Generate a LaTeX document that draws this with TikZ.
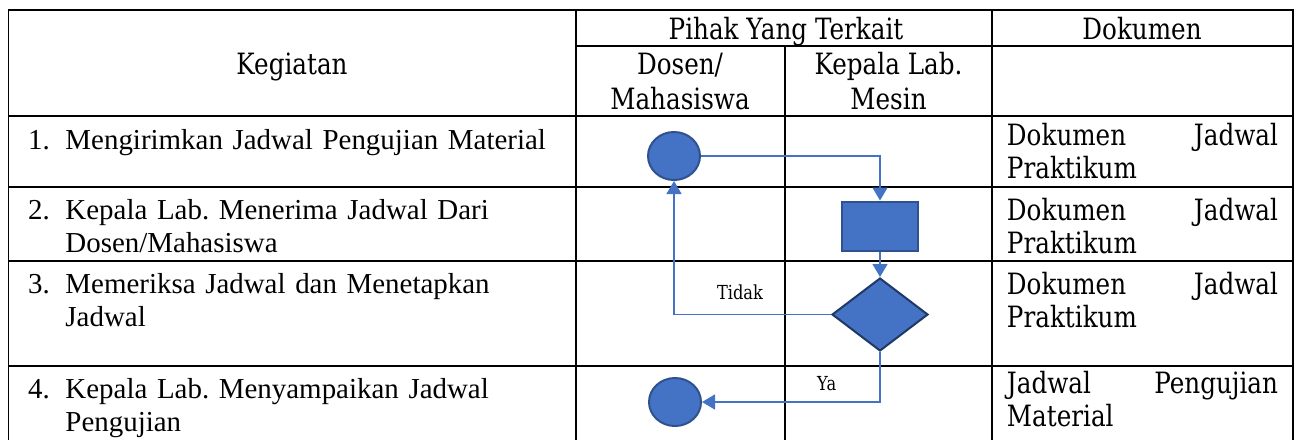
\documentclass[tikz,border=0pt]{standalone}
\usepackage{fontspec}
\setmainfont{Liberation Serif}
\newfontfamily\hdrfont[FakeStretch=0.84]{DejaVu Serif}
\usetikzlibrary{shapes.geometric,arrows.meta}
\definecolor{fillblue}{HTML}{4472C4}
\definecolor{edgeblue}{HTML}{2F528F}
\definecolor{darkedge}{HTML}{1F3864}
\definecolor{lineblue}{HTML}{4472C4}
\hyphenpenalty=10000
\exhyphenpenalty=10000
\tolerance=10000
\frenchspacing
\tikzset{
  gridline/.style={line width=1.3pt, black},
  hdr/.style={font=\hdrfont\fontsize{22}{25.5}\selectfont, inner sep=0pt, anchor=base},
  small/.style={font=\hdrfont\fontsize{14.5}{17}\selectfont, inner sep=0pt},
  body/.style={font=\fontsize{21.7}{25}\selectfont, inner sep=0pt},
  numtxt/.style={body, anchor=base west},
  actxt/.style={body, anchor=base west, text width=375pt, align=left},
  doctxt/.style={font=\hdrfont\fontsize{22}{25}\selectfont, inner sep=0pt, anchor=base west, text width=203.25pt, align=justify},
  oval/.style={ellipse, fill=fillblue, draw=edgeblue, line width=1.5pt, minimum width=39pt, minimum height=36pt, inner sep=0pt},
  procbox/.style={rectangle, fill=fillblue, draw=edgeblue, line width=1.5pt, minimum width=57pt, minimum height=36.75pt, inner sep=0pt},
  decision/.style={diamond, fill=fillblue, draw=darkedge, line width=1.5pt, minimum width=72pt, minimum height=54.75pt, inner sep=0pt},
  conn/.style={draw=lineblue, line width=1pt, -{Triangle[length=9.75pt, width=11.25pt]}},
}
\begin{document}
\begin{tikzpicture}[x=0.75pt, y=-0.75pt]
\useasboundingbox (0,0) rectangle (1294,440);
% table grid
\draw[gridline] (8.5,440) -- (8.5,10) -- (1293,10) -- (1293,440);
\draw[gridline] (576,46) -- (1293,46);
\draw[gridline] (8.5,116) -- (1293,116);
\draw[gridline] (8.5,187) -- (1293,187);
\draw[gridline] (8.5,261) -- (1293,261);
\draw[gridline] (8.5,366) -- (1293,366);
\draw[gridline] (576,10) -- (576,440);
\draw[gridline] (785,46) -- (785,440);
\draw[gridline] (992,10) -- (992,440);
% header
\node[hdr] (hkeg) at (292,74) {Kegiatan};
\node[hdr] (hpihak) at (786,39) {Pihak Yang Terkait};
\node[hdr] (hdok) at (1142,39) {Dokumen};
\node[hdr] (hdos1) at (680,74) {Dosen/};
\node[hdr] (hdos2) at (680,109) {Mahasiswa};
\node[hdr] (hkep1) at (888.5,74) {Kepala Lab.};
\node[hdr] (hkep2) at (888.5,109) {Mesin};
% activities
\node[numtxt] (n1) at (27.8,149.5) {1.};
\node[actxt] (a1) at (65.2,149.5) {Mengirimkan Jadwal Pengujian Material};
\node[numtxt] (n2) at (27.8,219.3) {2.};
\node[actxt] (a2) at (65.2,219.3) {Kepala Lab. Menerima Jadwal Dari\\Dosen/Mahasiswa};
\node[numtxt] (n3) at (27.8,293.3) {3.};
\node[actxt] (a3) at (65.2,293.3) {Memeriksa Jadwal dan Menetapkan\\Jadwal};
\node[numtxt] (n4) at (27.8,398.3) {4.};
\node[actxt] (a4) at (65.2,398.3) {Kepala Lab. Menyampaikan Jadwal\\Pengujian};
% documents
\node[doctxt] (d1) at (1006.7,145) {Dokumen Jadwal Praktikum};
\node[doctxt] (d2) at (1006.7,220) {Dokumen Jadwal Praktikum};
\node[doctxt] (d3) at (1006.7,294.3) {Dokumen Jadwal Praktikum};
\node[doctxt] (d4) at (1006.7,393.3) {Jadwal Pengujian Material};
% flow shapes
\node[oval] (c1) at (674,156) {};
\node[procbox] (r) at (880,226) {};
\node[decision] (dd) at (880,314.5) {};
\node[oval] (c2) at (675,402) {};
% connectors
\draw[conn] (c1.east) -| (r.north);
\draw[conn] (r.south) -- (dd.north);
\draw[conn] (dd.west) -| (c1.south);
\draw[conn] (dd.south) |- (c2.east);
\node[small] (tidak) at (740,292.7) {Tidak};
\node[small] (ya) at (826.7,383.3) {Ya};
\end{tikzpicture}
\end{document}
